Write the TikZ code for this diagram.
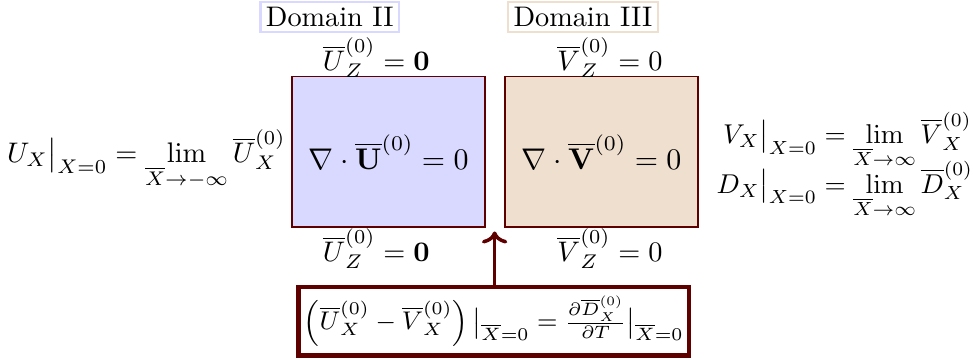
\RequirePackage{fix-cm}
\documentclass[tikz,border=0pt]{standalone}
\usepackage{amsmath,amssymb}
\usepackage{tikz}
\usetikzlibrary{arrows.meta}

\definecolor{wallred}{RGB}{95,0,0}

\begin{document}
\begin{tikzpicture}[every node/.style={font=\fontsize{10.4}{12.5}\selectfont}]
    \tikzset{
        domainbox/.style={draw=wallred, semithick, minimum width=2.49cm, minimum height=1.94cm, inner sep=0pt, font=\fontsize{11}{13}\selectfont},
        domaintag/.style={draw, thick, inner sep=2pt}
    }
    \useasboundingbox (0cm,0cm) rectangle (12.57cm,4.65cm);

    \node[domainbox, fill=blue!15] (dtwo) at (5.02cm,2.69cm){$\nabla\cdot\overline{\mathbf{U}}^{(0)}=0$};
    \node[domainbox, fill=brown!25] (dthree) at (7.77cm,2.69cm){$\nabla\cdot\overline{\mathbf{V}}^{(0)}=0$};

    \node[domaintag, draw=blue!15] (tagtwo) at (4.26cm,4.43cm){Domain II};
    \node[domaintag, draw=brown!25] (tagthree) at (7.53cm,4.43cm){Domain III};

    \node (utop) at (4.86cm,3.90cm){$\overline{U}_Z^{(0)}=\mathbf{0}$};
    \node (ubot) at (4.86cm,1.44cm){$\overline{U}_Z^{(0)}=\mathbf{0}$};
    \node (vtop) at (7.88cm,3.90cm){$\overline{V}_Z^{(0)}=0$};
    \node (vbot) at (7.88cm,1.44cm){$\overline{V}_Z^{(0)}=0$};

    \node (uleft) at (1.89cm,2.58cm){$U_X\big|_{X=0}=\lim\limits_{\overline{X}\to-\infty}\overline{U}_X^{(0)}$};
    \node[anchor=west, inner sep=0pt, font=\fontsize{10}{12}\selectfont] (vright) at (9.25cm,2.52cm){$\begin{aligned}
        V_X\big|_{X=0}&=\lim_{\overline{X}\to\infty}\overline{V}_X^{(0)}\\[-1.5ex]
        D_X\big|_{X=0}&=\lim_{\overline{X}\to\infty}\overline{D}_X^{(0)}
    \end{aligned}$};

    \node[draw=wallred, line width=1.5pt, inner xsep=2pt, minimum width=5cm, minimum height=0.76cm, font=\fontsize{9.4}{11.5}\selectfont] (jump) at (6.38cm,0.5cm){$\left(\overline{U}_X^{(0)}-\overline{V}_X^{(0)}\right)\big|_{\overline{X}=0}=\frac{\partial\overline{D}_X^{(0)}}{\partial T}\big|_{\overline{X}=0}$};

    \coordinate (gap) at (6.39cm,1.66cm);
    \draw[->, wallred, line width=1.3pt] (jump.north -| gap) -- (gap);
\end{tikzpicture}
\end{document}
